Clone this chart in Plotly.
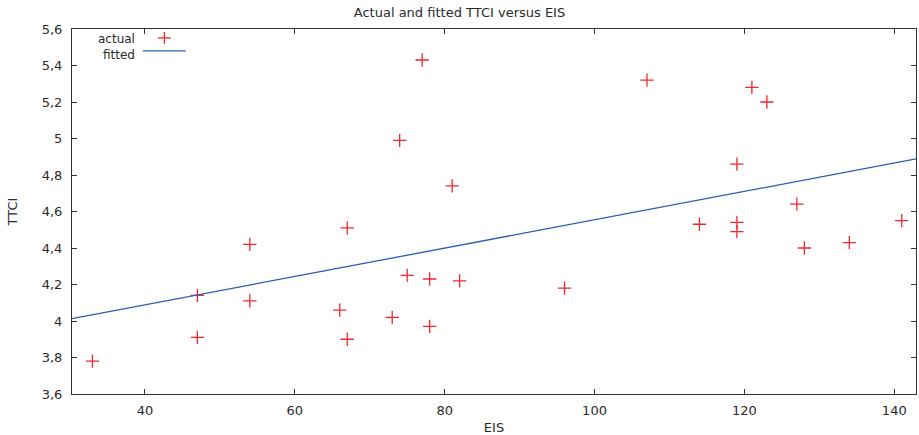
import plotly.graph_objects as go

# Data
eis = [33, 47, 47, 54, 54, 66, 67, 67, 73, 74, 75, 77, 78, 78, 81, 82, 96,
       107, 114, 119, 119, 119, 121, 123, 127, 128, 134, 141]
ttci = [3.78, 4.14, 3.91, 4.42, 4.11, 4.06, 4.51, 3.90, 4.02, 4.99, 4.25, 5.43,
        4.23, 3.97, 4.74, 4.22, 4.18, 5.32, 4.53, 4.86, 4.54, 4.49, 5.28, 5.20,
        4.64, 4.40, 4.43, 4.55]

fitted_x = [30.27, 142.9]
fitted_y = [4.013, 4.888]

y_tick_vals = [3.6, 3.8, 4.0, 4.2, 4.4, 4.6, 4.8, 5.0, 5.2, 5.4, 5.6]
y_tick_text = ["3,6", "3,8", "4", "4,2", "4,4", "4,6", "4,8", "5", "5,2", "5,4", "5,6"]
x_tick_vals = [40, 60, 80, 100, 120, 140]

W, H = 919, 435
L, R, T, B = 72, 2, 29, 38
PW, PH = W - L - R, H - T - B

RED = "#f0282d"
BLUE = "#2a5caa"
FONT = "DejaVu Sans"
TXT = "#2a2a2a"
FS = 13

def px(x):
    return (x - L) / PW

def py(y):
    return (H - B - y) / PH

fig = go.Figure()
fig.add_trace(go.Scatter(
    x=eis, y=ttci, mode="markers", name="actual",
    marker=dict(symbol="cross-thin", size=9.5, line=dict(color=RED, width=1.3), color=RED),
    showlegend=False,
))
fig.add_trace(go.Scatter(
    x=fitted_x, y=fitted_y, mode="lines", name="fitted",
    line=dict(color=BLUE, width=1.3), showlegend=False,
))

axis_common = dict(
    showline=True, linecolor="#333333", linewidth=1, mirror="ticks",
    ticks="inside", ticklen=5, tickcolor="#333333", tickwidth=1,
    showgrid=False, zeroline=False,
    tickfont=dict(family=FONT, size=FS, color=TXT),
)

fig.update_layout(
    width=W, height=H,
    margin=dict(l=L, r=R, t=T, b=B),
    plot_bgcolor="white", paper_bgcolor="white",
    title=dict(text="Actual and fitted TTCI versus EIS", x=0.5, xanchor="center",
               y=1 - 12 / H, yanchor="middle",
               font=dict(family=FONT, size=FS, color=TXT)),
    xaxis=dict(range=[30.27, 142.9], tickvals=x_tick_vals, ticklabelstandoff=4,
               title=dict(text="EIS", font=dict(family=FONT, size=FS, color=TXT), standoff=6),
               **axis_common),
    yaxis=dict(range=[3.6, 5.6], tickvals=y_tick_vals, ticktext=y_tick_text,
               ticklabelstandoff=6,
               title=dict(text="TTCI", font=dict(family=FONT, size=FS, color=TXT), standoff=21),
               **axis_common),
    showlegend=False,
)

# Custom gnuplot-style key (text left, sample right)
KEY_FS = 12
fig.add_annotation(text="actual", xref="paper", yref="paper", x=px(136), y=py(39),
                   xanchor="right", yanchor="middle", showarrow=False, borderpad=0,
                   font=dict(family=FONT, size=KEY_FS, color=TXT))
fig.add_annotation(text="fitted", xref="paper", yref="paper", x=px(136), y=py(55),
                   xanchor="right", yanchor="middle", showarrow=False, borderpad=0,
                   font=dict(family=FONT, size=KEY_FS, color=TXT))
fig.add_shape(type="line", xref="paper", yref="paper",
              x0=px(158), x1=px(171), y0=py(38), y1=py(38),
              line=dict(color=RED, width=1.3))
fig.add_shape(type="line", xref="paper", yref="paper",
              x0=px(164.5), x1=px(164.5), y0=py(32), y1=py(44),
              line=dict(color=RED, width=1.3))
fig.add_shape(type="line", xref="paper", yref="paper",
              x0=px(143), x1=px(186), y0=py(51), y1=py(51),
              line=dict(color=BLUE, width=1.3))

fig.write_html("out.html")
